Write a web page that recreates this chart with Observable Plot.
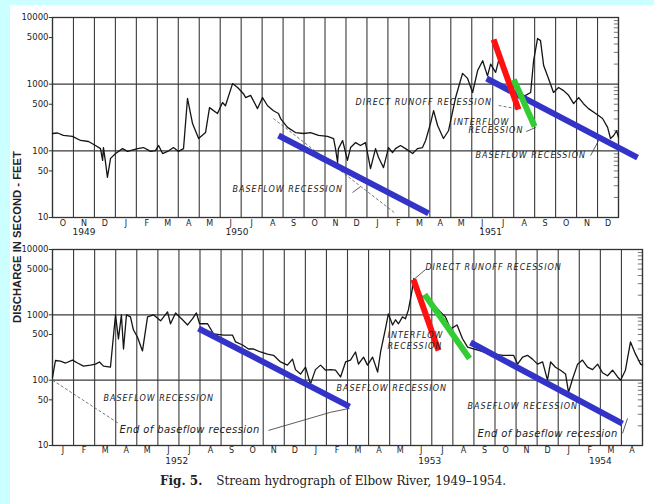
<!DOCTYPE html>
<html><head><meta charset="utf-8">
<script src="https://cdn.jsdelivr.net/npm/d3@7"></script>
<script src="https://cdn.jsdelivr.net/npm/@observablehq/plot@0.6"></script>
<style>
html,body{margin:0;padding:0;}
body{width:654px;height:504px;background:#ccffff;position:relative;overflow:hidden;}
#page{position:absolute;left:10px;top:5px;width:644px;height:499px;background:#fff;}
#top{position:absolute;left:0;top:0;}
#bot{position:absolute;left:0;top:235px;}
#ylab{position:absolute;left:0;top:0;}
#cap{position:absolute;left:160px;top:474px;font-family:"DejaVu Serif",serif;font-size:12px;color:#222;white-space:nowrap;}
#cap b{margin-right:10px;}
</style></head>
<body>
<div id="page"></div>
<div id="top"></div>
<div id="bot"></div>
<svg id="ylab" width="34" height="504"><text transform="translate(18,237) rotate(-90)" text-anchor="middle" dominant-baseline="middle" font-family="Liberation Sans, sans-serif" font-size="11.5" font-weight="bold" fill="#222" textLength="172" lengthAdjust="spacingAndGlyphs">DISCHARGE IN SECOND - FEET</text></svg>
<div id="cap"><b>Fig. 5.</b> Stream hydrograph of Elbow River, 1949–1954.</div>
<script>
// ---------- data ----------
const monthsTop = ["O","N","D","J","F","M","A","M","J","J","A","S","O","N","D","J","F","M","A","M","J","J","A","S","O","N","D"];
const monthsBot = ["J","F","M","A","M","J","J","A","S","O","N","D","J","F","M","A","M","J","J","A","S","O","N","D","J","F","M","A"];
const yearsTop = ["1949","1950","1951"];
const yearsTopPos = [1.5, 8.8, 20.9];
const yearsBot = ["1952","1953","1954"];
const yearsBotPos = [5.9, 17.9, 26.0];
const yTicks = [10, 50, 100, 500, 1000, 5000, 10000];

// months since 1 Oct 1949, discharge (cfs)
const topT = [0,0.24,0.52,0.95,1.34,1.72,2.05,2.29,2.39,2.43,2.53,2.62,2.77,3.01,3.34,3.58,4.06,4.34,4.68,4.91,5.06,5.25,5.49,5.77,6.01,6.25,6.44,6.68,6.97,7.30,7.49,7.87,8.11,8.25,8.59,8.83,9.11,9.21,9.45,9.78,10.02,10.26,10.54,10.78,10.88,11.21,11.59,11.98,12.31,12.69,13.12,13.41,13.50,13.60,13.64,13.84,14.07,14.22,14.46,14.69,14.93,15.17,15.41,15.55,15.79,16.03,16.22,16.36,16.60,16.84,17.18,17.41,17.65,17.80,18.03,18.18,18.37,18.65,18.89,19.23,19.56,19.80,20.04,20.28,20.52,20.75,20.90,21.14,21.28,21.52,21.85,22.23,22.57,22.81,22.95,23.14,23.28,23.43,23.66,23.90,24.14,24.38,24.62,24.86,25.10,25.33,25.57,25.91,26.24,26.48,26.62,26.77,26.91,27.0];
const topQ = [182,185,170,165,143,138,120,108,72,112,67,40,77,91,108,98,108,112,98,101,120,91,98,112,98,108,610,256,153,188,445,363,530,475,1020,890,720,630,680,430,630,475,400,363,305,225,188,182,188,170,165,153,108,67,108,143,72,112,133,120,133,54,108,80,56,112,94,108,120,108,91,108,112,143,256,400,240,153,200,630,1450,1220,750,1600,2250,1330,2000,1500,2250,1700,950,630,680,750,2250,4850,4500,1900,1220,750,890,800,680,510,630,510,430,363,305,225,153,170,200,160];

// months since 1 Jan 1952, discharge (cfs)
const botT = [0,0.14,0.38,0.62,0.95,1.19,1.47,1.80,2.04,2.23,2.42,2.75,2.99,3.13,3.27,3.37,3.51,3.70,3.84,4.03,4.27,4.51,4.79,5.13,5.46,5.60,5.84,6.17,6.41,6.64,6.83,6.98,7.36,7.64,8.12,8.54,8.69,9.02,9.30,9.54,9.87,10.20,10.49,10.82,11.15,11.39,11.53,11.77,12.01,12.24,12.48,12.72,12.96,13.20,13.43,13.67,13.91,14.14,14.38,14.52,14.76,14.95,15.19,15.43,15.57,15.80,15.94,16.14,16.28,16.42,16.61,16.75,16.89,17.08,17.15,17.40,17.75,18.04,18.41,18.65,18.89,19.20,19.46,19.70,19.98,20.46,20.93,21.40,21.88,22.07,22.31,22.54,22.78,23.02,23.26,23.49,23.64,23.87,24.11,24.35,24.49,24.68,24.92,25.15,25.39,25.63,25.87,26.10,26.34,26.58,26.82,26.96,27.19,27.43,27.67,27.91,28.0];
const botQ = [110,200,196,183,203,183,164,170,176,190,164,158,1000,428,1000,300,1000,930,590,458,280,930,1000,810,1110,730,1070,840,700,870,1070,730,730,510,490,490,385,345,300,300,270,250,240,190,170,210,145,124,158,87,145,170,142,145,142,112,190,203,270,176,225,170,225,133,270,610,1035,700,840,730,930,870,1190,2510,3600,2100,1700,1480,1110,930,610,700,430,320,300,270,250,240,240,176,225,240,210,176,190,100,190,158,142,124,65,104,176,203,158,145,176,130,117,142,112,100,142,385,250,176,170];

// recession lines (start/end months and discharges)
const recKinds = ["direct", "interflow", "baseflow"];
const recColors = ["#ff1111", "#33cc33", "#3333c8"];
const topRecKind = ["baseflow", "baseflow", "direct", "interflow"];
const topRecT0 = [10.78, 20.71, 21.04, 22.0];
const topRecQ0 = [170, 1216, 4670, 1175];
const topRecT1 = [17.94, 27.91, 22.23, 23.0];
const topRecQ1 = [11.5, 79, 417, 232];
const botRecKind = ["baseflow", "direct", "interflow", "baseflow"];
const botRecT0 = [6.93, 17.13, 17.66, 19.84];
const botRecQ0 = [617, 3470, 2050, 377];
const botRecT1 = [14.10, 18.32, 19.79, 27.05];
const botRecQ1 = [39.4, 284, 214, 21.6];

// original thin drawn recession / leader lines
const topDashT0 = [10.54, 21.28], topDashQ0 = [305, 479], topDashT1 = [16.36, 22.09], topDashQ1 = [11.5, 431];
const topLeadT0 = [14.31, 22.6, 25.67], topLeadQ0 = [23.7, 195, 85], topLeadT1 = [14.69, 23.05, 26.05], topLeadQ1 = [29, 224, 143];
const botDashT0 = [0], botDashQ0 = [100], botDashT1 = [3.13], botDashQ1 = [21.9];
const botLeadT0 = [10.25, 13.19, 17.18, 27.05], botLeadQ0 = [17, 32.2, 3550, 15.3], botLeadT1 = [13.19, 14.10, 17.70, 27.29], botLeadQ1 = [32.2, 37, 4920, 26];

// annotations
const topNoteText = ["BASEFLOW RECESSION", "DIRECT RUNOFF RECESSION", "INTERFLOW", "RECESSION", "BASEFLOW RECESSION"];
const topNoteT = [8.59, 14.46, 19.13, 19.85, 20.18];
const topNoteQ = [26.3, 531, 266, 202, 85];
const botNoteText = ["BASEFLOW RECESSION", "End of baseflow recession", "BASEFLOW RECESSION", "DIRECT RUNOFF RECESSION", "INTERFLOW", "RECESSION", "BASEFLOW RECESSION", "End of baseflow recession"];
const botNoteT = [2.42, 3.18, 13.48, 17.70, 15.9, 15.9, 19.70, 20.17];
const botNoteQ = [52.8, 17.6, 75, 5280, 488, 333, 40, 15.3];

// ---------- build ----------
const zipSeries = (T, Q) => T.map((t, i) => ({t, q: Q[i]}));
const zipSeg = (T0, Q0, T1, Q1, K) => T0.map((t, i) => ({t0: t, q0: Q0[i], t1: T1[i], q1: Q1[i], k: K ? K[i] : null}));
const zipNote = (S, T, Q) => S.map((s, i) => ({s, t: T[i], q: Q[i]}));

function panel(o) {
  const n = o.months.length;
  const minor = [2,3,4,5,6,7,8,9].flatMap(k => [k * 10, k * 100, k * 1000]);
  const seg = {x1: "t0", y1: "q0", x2: "t1", y2: "q1"};
  const svg = Plot.plot({
    width: 654, height: o.height,
    marginLeft: 52, marginRight: o.mr, marginTop: o.mt, marginBottom: o.mb,
    style: {background: "transparent", fontFamily: "DejaVu Sans, sans-serif", color: "#222", overflow: "visible"},
    x: {type: "linear", domain: [0, n], label: null},
    y: {type: "log", domain: [10, 10000], label: null, axis: null},
    color: {domain: recKinds, range: recColors},
    marks: [
      Plot.ruleX(d3.range(0, n + 1), {stroke: "#3a3a3a", strokeWidth: 1.1}),
      Plot.ruleY([100, 1000], {stroke: "#3a3a3a", strokeWidth: 1.2}),
      Plot.ruleY(minor, {x1: n - 0.2, x2: n, stroke: "#555", strokeWidth: 0.8}),
      Plot.frame({stroke: "#333", strokeWidth: 1.3}),
      Plot.ruleY(yTicks, {x1: -0.15, x2: 0, stroke: "#333", strokeWidth: 1}),
      Plot.text(yTicks, {x: 0, y: d => d, text: d => String(d), textAnchor: "end", dx: -4, fontSize: 8.5, fill: "#222"}),
      Plot.axisX(d3.range(n).map(i => i + 0.5), {tickSize: 0, tickPadding: o.mp, fontSize: 8, tickFormat: d => o.months[Math.floor(d)]}),
      Plot.axisX(o.yearPos, {tickSize: 0, tickPadding: o.yp, fontSize: 9, tickFormat: d => o.years[o.yearPos.indexOf(d)]}),
      Plot.link(o.dash, {...seg, stroke: "#555", strokeWidth: 0.8, strokeDasharray: "3,2"}),
      Plot.link(o.lead, {...seg, stroke: "#333", strokeWidth: 0.8}),
      Plot.line(o.series, {x: "t", y: "q", stroke: "#151515", strokeWidth: 1.3}),
      Plot.link(o.rec, {...seg, stroke: "k", strokeWidth: 6}),
      Plot.text(o.notes, {x: "t", y: "q", text: "s", textAnchor: "start", fontStyle: "italic",
        fontSize: d => d.s.startsWith("End") ? 10 : 8, fill: "#222", fontFamily: "DejaVu Sans, sans-serif"})
    ]
  });
  svg.querySelectorAll('g[aria-label="text"] text').forEach(t => {
    const s = t.textContent;
    if (/^[0-9]+$/.test(s)) return;
    t.style.letterSpacing = s.startsWith("End") ? "0.4px" : "1px";
  });
  return svg;
}

document.getElementById("top").appendChild(panel({
  months: monthsTop, years: yearsTop, yearPos: yearsTopPos,
  height: 235, mt: 17, mb: 18, mr: 36, mp: 3, yp: 11,
  series: zipSeries(topT, topQ),
  rec: zipSeg(topRecT0, topRecQ0, topRecT1, topRecQ1, topRecKind),
  dash: zipSeg(topDashT0, topDashQ0, topDashT1, topDashQ1),
  lead: zipSeg(topLeadT0, topLeadQ0, topLeadT1, topLeadQ1),
  notes: zipNote(topNoteText, topNoteT, topNoteQ)
}));
document.getElementById("bot").appendChild(panel({
  months: monthsBot, years: yearsBot, yearPos: yearsBotPos,
  height: 235, mt: 14, mb: 25, mr: 12, mp: 2, yp: 12,
  series: zipSeries(botT, botQ),
  rec: zipSeg(botRecT0, botRecQ0, botRecT1, botRecQ1, botRecKind),
  dash: zipSeg(botDashT0, botDashQ0, botDashT1, botDashQ1),
  lead: zipSeg(botLeadT0, botLeadQ0, botLeadT1, botLeadQ1),
  notes: zipNote(botNoteText, botNoteT, botNoteQ)
}));
</script>
</body></html>
